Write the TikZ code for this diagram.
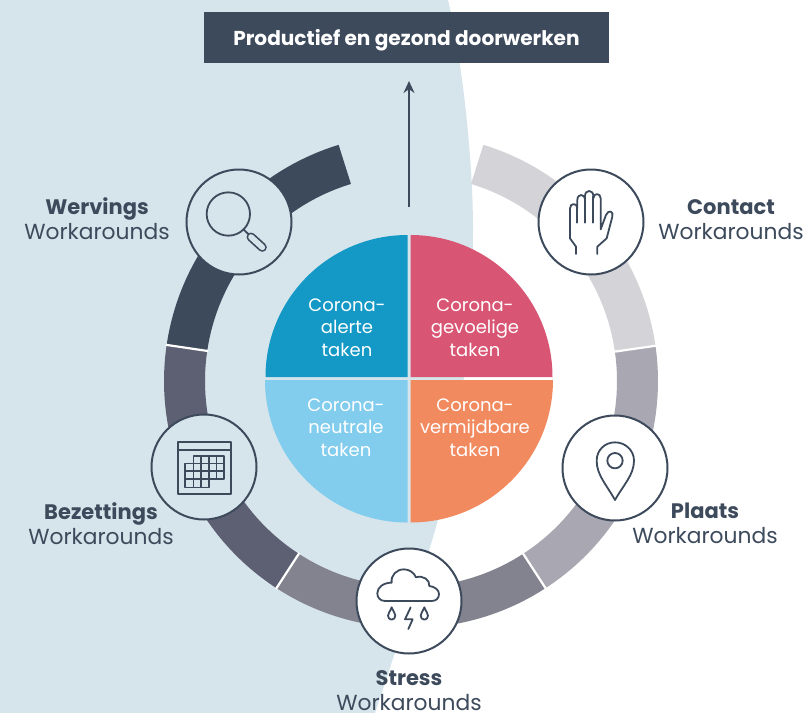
\documentclass[tikz,border=0pt]{standalone}
\usepackage{fontspec}
\setmainfont{Poppins}
\usetikzlibrary{arrows.meta}
\definecolor{darkslate}{HTML}{3D4A5C}
\definecolor{backblue}{HTML}{D6E4EB}
\definecolor{ringb}{HTML}{5D6072}
\definecolor{ringc}{HTML}{83828F}
\definecolor{ringd}{HTML}{A9A8B2}
\definecolor{ringe}{HTML}{D3D3D8}
\definecolor{pieblue}{HTML}{1499C6}
\definecolor{piered}{HTML}{D95574}
\definecolor{pielight}{HTML}{82CCED}
\definecolor{pieorange}{HTML}{F28A60}
\newcommand{\headword}[1]{{\fontsize{21}{25}\selectfont\bfseries #1}}

\begin{document}
\begin{tikzpicture}[x=1pt, y=1pt, yscale=-1,
	main node/.style={circle, draw=darkslate, line width=2pt, minimum size=105pt, inner sep=0pt},
	ring part/.style={line width=41pt},
	ring gap/.style={white, line width=2.2pt},
	icon line/.style={draw=darkslate, line width=1.8pt, line join=round, line cap=round},
	side label/.style={text=darkslate, align=center, inner sep=0pt, font=\fontsize{21.8}{25}\selectfont},
	pie label/.style={text=white, align=center, inner sep=0pt, font=\fontsize{18}{22.5}\selectfont}]

	\useasboundingbox (0,0) rectangle (807,713);
	\fill[white] (0,0) rectangle (807,713);

	% background
	\fill[backblue] (0,0) -- (448,0) .. controls (460,50) and (473,150) .. (473,230) .. controls (473,340) and (455,470) .. (430,547) -- (375,713) -- (0,713) -- cycle;

	% ring
	\begin{scope}[shift={(411,381)}]
		\draw[ring part, darkslate] (-107:226.5) arc (-107:-171.6:226.5);
		\draw[ring part, ringb] (-171.6:226.5) arc (-171.6:-237:226.5);
		\draw[ring part, ringc] (-237:226.5) arc (-237:-303:226.5);
		\draw[ring part, ringd] (-303:226.5) arc (-303:-368.2:226.5);
		\draw[ring part, ringe] (-8.2:226.5) arc (-8.2:-73:226.5) ;
		\draw[ring gap] (-171.6:205) -- (-171.6:248);
		\draw[ring gap] (-237:205) -- (-237:248);
		\draw[ring gap] (-303:205) -- (-303:248);
		\draw[ring gap] (-8.2:205) -- (-8.2:248);
	\end{scope}

	% quadrants
	\fill[pieblue] (407.5,377) -- (265.5,377) arc (-180:-90:142) -- cycle;
	\fill[piered] (410.5,377) -- (410.5,235) arc (-90:0:142) -- cycle;
	\fill[pielight] (407.5,380) -- (407.5,522.5) arc (90:180:142.5) -- cycle;
	\fill[pieorange] (410.5,380) -- (553,380) arc (0:90:142.5) -- cycle;

	\node[pie label] (alert) at (347,327.5) {Corona-\\alerte\\taken};
	\node[pie label] (gevoelig) at (475,327.5) {Corona-\\gevoelige\\taken};
	\node[pie label] (neutraal) at (346,427.5) {Corona-\\neutrale\\taken};
	\node[pie label] (vermijd) at (475,427.5) {Corona-\\vermijdbare\\taken};

	% title and arrow
	\node[fill=darkslate, text=white, minimum width=405pt, minimum height=51pt, inner sep=0pt, text depth=0pt, font=\fontsize{20.1}{22}\selectfont\bfseries] (title) at (406.5,37.5) {Productief en gezond doorwerken};
	\coordinate (arrowfoot) at (409,207);
	\coordinate (arrowhead) at (409,81);
	\draw[darkslate, line width=2pt, -{Stealth[length=12pt,width=11pt]}] (arrowfoot) -- (arrowhead);

	% circles
	\node[main node, fill=backblue] (wervings) at (239,222) {};
	\node[main node, fill=white] (contact) at (591,222) {};
	\node[main node, fill=backblue] (bezettings) at (204,467) {};
	\node[main node, fill=white] (plaats) at (615,468) {};
	\node[main node, fill=white] (stress) at (409,601) {};

	% labels
	\node[side label] (wervingslabel) at (97,218.5) {\headword{Wervings}\\Workarounds};
	\node[side label] (contactlabel) at (731,220) {\headword{Contact}\\Workarounds};
	\node[side label] (bezettingslabel) at (101,523.5) {\headword{Bezettings}\\Workarounds};
	\node[side label] (plaatslabel) at (705,523) {\headword{Plaats}\\Workarounds};
	\node[side label] (stresslabel) at (409,690.5) {\headword{Stress}\\Workarounds};

	% magnifier
	\begin{scope}[shift={(140,130)}, scale=1/3]
		\draw[icon line] (265,252) circle (65);
		\draw[icon line] (310,298) -- (325,312);
		\draw[darkslate, line width=9pt, line cap=round] (333,321) -- (367,352);
		\draw[backblue, line width=5.6pt, line cap=round] (333,321) -- (367,352);
	\end{scope}

	% hand
	\begin{scope}[shift={(460,130)}, scale=1/3]
		\draw[icon line] (348,372) -- (348,350) -- (330,325) -- (330,235) .. controls (330,218) and (352,218) .. (352,235) -- (352,210) .. controls (352,190) and (375,190) .. (375,210) -- (375,198) .. controls (375,178) and (400,178) .. (400,198) -- (400,205) .. controls (400,188) and (422,188) .. (422,205) -- (422,298) -- (438,255) .. controls (445,238) and (462,243) .. (457,260) -- (440,325) -- (412,350) -- (412,372);
		\draw[icon line] (352,232) -- (352,278);
		\draw[icon line] (375,205) -- (375,278);
		\draw[icon line] (400,200) -- (400,278);
	\end{scope}

	% calendar
	\begin{scope}[shift={(140,400)}, scale=1/3]
		\draw[icon line, line cap=butt] (115,125) rectangle (272,282);
		\draw[icon line, line cap=butt] (115,150) -- (272,150);
		\draw[icon line, line width=1.6pt] (160,168) rectangle (252,237);
		\draw[icon line, line width=1.6pt] (135,190) rectangle (207,262);
		\draw[icon line, line width=1.6pt] (160,190) -- (160,262);
		\draw[icon line, line width=1.6pt] (183,168) -- (183,262);
		\draw[icon line, line width=1.6pt] (207,168) -- (207,190);
		\draw[icon line, line width=1.6pt] (230,168) -- (230,237);
		\draw[icon line, line width=1.6pt] (135,213) -- (252,213);
		\draw[icon line, line width=1.6pt] (135,237) -- (207,237);
		\draw[icon line, line width=1.6pt] (207,190) -- (252,190);
	\end{scope}

	% cloud
	\begin{scope}[shift={(340,530)}, scale=1/3]
		\draw[icon line] (135,213) .. controls (120,213) and (112,202) .. (112,190) .. controls (112,172) and (130,158) .. (155,158) .. controls (152,135) and (170,118) .. (192,118) .. controls (208,118) and (222,128) .. (228,142) .. controls (250,135) and (270,150) .. (268,168) .. controls (285,170) and (297,180) .. (297,192) .. controls (297,205) and (288,213) .. (275,213) -- cycle;
		\draw[icon line] (155,232) .. controls (150,245) and (144,250) .. (144,257) .. controls (144,264) and (149,269) .. (155,269) .. controls (161,269) and (166,264) .. (166,257) .. controls (166,250) and (160,245) .. (155,232) -- cycle;
		\draw[icon line] (253,232) .. controls (248,245) and (242,250) .. (242,257) .. controls (242,264) and (247,269) .. (253,269) .. controls (259,269) and (264,264) .. (264,257) .. controls (264,250) and (258,245) .. (253,232) -- cycle;
		\draw[icon line] (212,232) -- (195,268) -- (218,268) -- (205,297);
	\end{scope}

	% pin
	\begin{scope}[shift={(510,400)}, scale=1/3]
		\draw[icon line] (315,300) .. controls (290,255) and (260,225) .. (260,182) .. controls (260,150) and (285,127) .. (315,127) .. controls (345,127) and (372,150) .. (372,182) .. controls (372,225) and (340,255) .. (315,300) -- cycle;
		\draw[icon line] (315,182) circle (23);
	\end{scope}

\end{tikzpicture}
\end{document}
